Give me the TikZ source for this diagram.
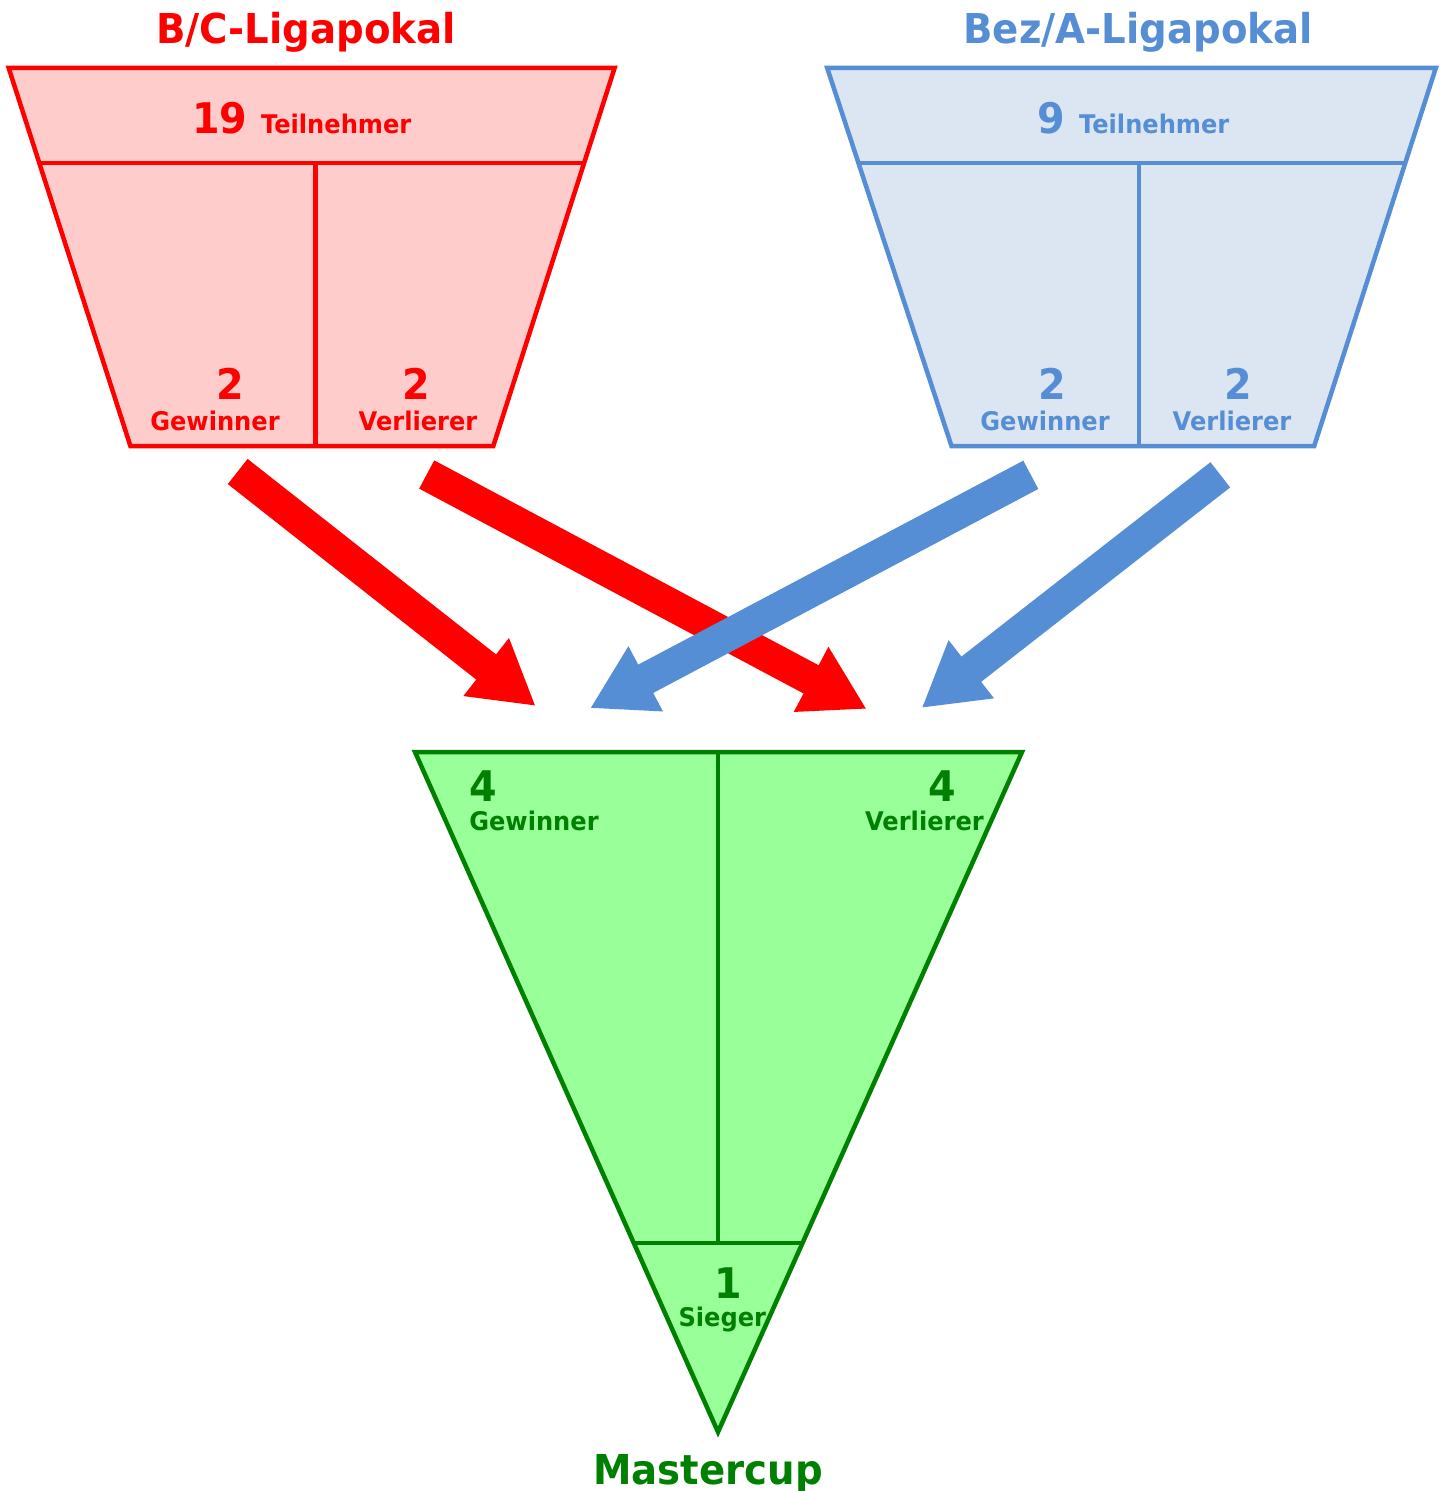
\documentclass[tikz,border=0pt]{standalone}
\usepackage{fontspec}
\setmainfont{DejaVu Sans}[FakeStretch=0.94]
\usetikzlibrary{arrows.meta}

\definecolor{bcred}{HTML}{FF0000}
\definecolor{bcfill}{HTML}{FFCCCC}
\definecolor{bzblue}{HTML}{558ED5}
\definecolor{bzfill}{HTML}{DCE6F2}
\definecolor{mcgreen}{HTML}{008000}
\definecolor{mcfill}{HTML}{99FF99}

\tikzset{
  cuptitle/.style={anchor=base,inner sep=0pt,font=\bfseries\fontsize{11.7}{14}\selectfont},
  cupcount/.style={anchor=base,inner sep=0pt,font=\bfseries\fontsize{12}{14}\selectfont},
  cupword/.style={anchor=base,inner sep=0pt,font=\bfseries\fontsize{7.3}{9}\selectfont},
  cupline/.style={line width=0.045cm},
  flow/.style={line width=0.32cm,-{Triangle[length=0.63cm,width=0.69cm]}}
}

\begin{document}
\begin{tikzpicture}[x=0.01cm,y=-0.01cm]
  \useasboundingbox (0,0) rectangle (1445,1491);

  % B/C cup
  \draw[cupline,bcred,fill=bcfill] (8.7,68) -- (614.6,68) -- (493.3,446) -- (130.4,446) -- cycle;
  \draw[cupline,bcred] (38.7,163) -- (583.6,163) (315.4,163) -- (315.4,446);
  \node[cuptitle,bcred] (bctitle) at (306,43.3) {B/C-Ligapokal};
  \node[anchor=base,inner sep=0pt,bcred,font=\bfseries] (bcteil) at (301.7,133.3)
    {\fontsize{12}{14}\selectfont 19 \fontsize{7.3}{9}\selectfont Teilnehmer};
  \node[cupcount,bcred] (bcwinnum) at (230,399) {2};
  \node[cupword,bcred] (bcwin) at (215,430) {Gewinner};
  \node[cupcount,bcred] (bclosnum) at (416,399) {2};
  \node[cupword,bcred] (bclos) at (418,430) {Verlierer};

  % Bez/A cup
  \draw[cupline,bzblue,fill=bzfill] (827.2,68) -- (1435.8,68) -- (1314.2,446) -- (951.5,446) -- cycle;
  \draw[cupline,bzblue] (857.5,163) -- (1405.3,163) (1138.8,163) -- (1138.8,446);
  \node[cuptitle,bzblue] (bztitle) at (1138,43.3) {Bez/A-Ligapokal};
  \node[anchor=base,inner sep=0pt,bzblue,font=\bfseries] (bzteil) at (1133.5,133.3)
    {\fontsize{12}{14}\selectfont 9 \fontsize{7.3}{9}\selectfont Teilnehmer};
  \node[cupcount,bzblue] (bzwinnum) at (1052,399) {2};
  \node[cupword,bzblue] (bzwin) at (1045,430) {Gewinner};
  \node[cupcount,bzblue] (bzlosnum) at (1238.5,399) {2};
  \node[cupword,bzblue] (bzlos) at (1232,430) {Verlierer};

  % Mastercup
  \draw[cupline,mcgreen,fill=mcfill] (415,752) -- (1022,752) -- (718,1432) -- cycle;
  \draw[cupline,mcgreen] (633.8,1243) -- (802.5,1243) (718,752) -- (718,1243);
  \node[cupcount,mcgreen,anchor=base west] (mcwinnum) at (468.6,801.7) {4};
  \node[cupword,mcgreen,anchor=base west] (mcwin) at (468.6,830.7) {Gewinner};
  \node[cupcount,mcgreen,anchor=base east] (mclosnum) at (957,801.7) {4};
  \node[cupword,mcgreen,anchor=base east] (mclos) at (984.5,830.7) {Verlierer};
  \node[cupcount,mcgreen] (mcsiegnum) at (728,1298.3) {1};
  \node[cupword,mcgreen] (mcsieg) at (722.3,1326.7) {Sieger};
  \node[cuptitle,mcgreen] (mctitle) at (708,1484) {Mastercup};

  % arrow ends
  \coordinate (bcwinout) at (237.7,471.5);
  \coordinate (bclosout) at (426.7,474.5);
  \coordinate (bzwinout) at (1030.8,474.8);
  \coordinate (bzlosout) at (1220.3,474.8);
  \coordinate (bcwinin) at (535.7,706);
  \coordinate (bclosin) at (866.7,709);
  \coordinate (bzwinin) at (590,708.3);
  \coordinate (bzlosin) at (921.6,708);

  \draw[flow,bcred] (bcwinout) -- (bcwinin);
  \draw[flow,bcred] (bclosout) -- (bclosin);
  \draw[flow,bzblue] (bzwinout) -- (bzwinin);
  \draw[flow,bzblue] (bzlosout) -- (bzlosin);
\end{tikzpicture}
\end{document}
